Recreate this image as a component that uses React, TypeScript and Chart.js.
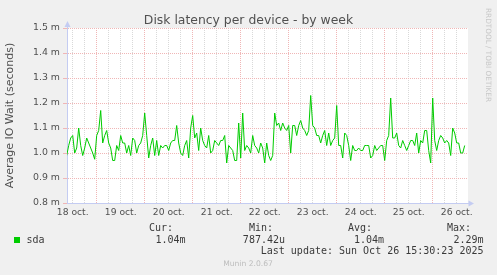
import { useEffect, useRef } from 'react';
import { Chart, registerables } from 'chart.js';

Chart.register(...registerables);

// time axis: hours after 18 oct 00:00, one sample per hour
const startHour = 9;
const stepHours = 1;

// average IO wait for sda, in milliseconds
const latencyMs = [
  0.99, 1.03, 1.06, 1.07, 1.0, 1.02, 1.1, 1.03, 0.99, 1.02, 1.06, 1.04, 1.02, 1.0, 0.975, 1.07, 1.09, 1.17, 1.04, 1.07, 1.09, 1.04, 1.02, 0.97, 0.97, 1.03,
  1.01, 1.07, 1.04, 1.04, 1.0, 1.03, 0.99, 1.06, 1.05, 1.0, 1.03, 1.04, 1.07, 1.16, 1.07, 0.98, 1.03, 1.06, 0.99, 1.05, 0.99, 1.03, 1.02, 1.03, 1.03,
  1.01, 1.04, 1.05, 1.05, 1.11, 1.04, 1.0, 0.99, 1.03, 1.05, 0.98, 1.1, 1.15, 1.06, 1.08, 1.01, 1.1, 1.05, 1.03, 1.02, 1.07, 1.0, 1.01, 1.05, 1.04,
  1.03, 1.05, 1.05, 1.07, 0.96, 1.03, 1.02, 1.01, 0.97, 0.97, 1.12, 0.98, 1.16, 1.01, 1.03, 1.02, 1.0, 1.07, 1.03, 1.02, 1.0, 1.04, 1.02, 0.96, 1.04,
  0.99, 0.97, 0.99, 1.16, 1.11, 1.12, 1.09, 1.12, 1.1, 1.09, 1.11, 1.0, 1.11, 1.11, 1.07, 1.11, 1.13, 1.1, 1.09, 1.07, 1.09, 1.23, 1.11, 1.1, 1.07,
  1.07, 1.04, 1.07, 1.09, 1.03, 1.08, 1.03, 1.05, 1.06, 1.19, 1.03, 1.03, 0.98, 1.08, 1.07, 1.03, 0.97, 1.03, 1.01, 1.01, 1.02, 1.01, 1.01, 1.03, 1.03,
  1.03, 0.98, 0.99, 1.03, 1.01, 1.02, 1.03, 1.03, 0.97, 1.05, 1.07, 1.22, 1.06, 1.06, 1.08, 1.03, 1.02, 1.05, 1.03, 1.01, 1.03, 1.05, 1.05, 1.03, 1.08,
  1.0, 1.05, 1.04, 1.09, 1.09, 1.01, 0.96, 1.22, 1.05, 1.01, 1.05, 1.07, 1.06, 1.04, 1.05, 1.04, 0.99, 1.1, 1.08, 1.04, 1.04, 1.0, 1.0, 1.03,
];

const dayLabels = ['18 oct.', '19 oct.', '20 oct.', '21 oct.', '22 oct.', '23 oct.', '24 oct.', '25 oct.', '26 oct.'];
const yTicks = [0.8, 0.9, 1.0, 1.1, 1.2, 1.3, 1.4, 1.5];
const xRange = [9.15, 209.65];

const seriesName = 'sda';
const legendHeaders = ['Cur:', 'Min:', 'Avg:', 'Max:'];
const legendValues = ['1.04m', '787.42u', '1.04m', '2.29m'];
const lastUpdate = 'Last update: Sun Oct 26 15:30:23 2025';
const chartTitle = 'Disk latency per device - by week';
const yTitle = 'Average IO Wait (seconds)';
const watermark = 'Munin 2.0.67';
const sideText = 'RRDTOOL / TOBI OETIKER';

const GREEN = '#00CC00';
const AXIS = '#C4CCF2';
const MAJOR = '#F0B6B6';
const MINOR = '#D9D9D9';
const SANS = '"DejaVu Sans", sans-serif';
const MONO = '"DejaVu Sans Mono", monospace';

const decor = {
  id: 'muninDecor',
  beforeDraw(chart: any) {
    const { ctx, chartArea: a, width, height } = chart;
    ctx.save();
    ctx.fillStyle = '#F0F0F0';
    ctx.fillRect(0, 0, width, height);
    ctx.fillStyle = '#FFFFFF';
    ctx.fillRect(a.left, a.top, a.right - a.left, a.bottom - a.top);
    ctx.restore();
  },
  afterDraw(chart: any) {
    const { ctx, chartArea: a } = chart;
    ctx.save();
    // axis arrows
    const ax = Math.round(a.left) + 0.5;
    const ay = Math.round(a.bottom) + 0.5;
    ctx.strokeStyle = AXIS;
    ctx.fillStyle = AXIS;
    ctx.lineWidth = 1;
    ctx.beginPath();
    ctx.moveTo(ax, a.top);
    ctx.lineTo(ax, a.top - 3);
    ctx.moveTo(a.right, ay);
    ctx.lineTo(a.right + 2, ay);
    ctx.stroke();
    ctx.beginPath();
    ctx.moveTo(ax, a.top - 7);
    ctx.lineTo(ax - 3, a.top - 1);
    ctx.lineTo(ax + 3, a.top - 1);
    ctx.closePath();
    ctx.fill();
    ctx.beginPath();
    ctx.moveTo(a.right + 6, ay);
    ctx.lineTo(a.right + 0.5, ay - 3);
    ctx.lineTo(a.right + 0.5, ay + 3);
    ctx.closePath();
    ctx.fill();

    // title
    ctx.fillStyle = '#505050';
    ctx.font = `12.4px ${SANS}`;
    ctx.textAlign = 'center';
    ctx.textBaseline = 'alphabetic';
    ctx.fillText(chartTitle, chart.width / 2, 24);

    // y title
    ctx.save();
    ctx.translate(10.5, (a.top + a.bottom) / 2);
    ctx.rotate(-Math.PI / 2);
    ctx.font = `11px ${SANS}`;
    ctx.textAlign = 'center';
    ctx.textBaseline = 'middle';
    ctx.fillStyle = '#505050';
    ctx.fillText(yTitle, 0, 0);
    ctx.restore();

    // side text
    ctx.save();
    ctx.translate(488, 8);
    ctx.rotate(Math.PI / 2);
    ctx.font = `7.3px ${SANS}`;
    ctx.textAlign = 'left';
    ctx.textBaseline = 'middle';
    ctx.fillStyle = '#C8C8C8';
    ctx.fillText(sideText, 0, 0);
    ctx.restore();

    // legend
    ctx.font = `10px ${MONO}`;
    ctx.textBaseline = 'middle';
    ctx.fillStyle = '#3A3A3A';
    const headX = [149, 249, 348, 447];
    const valRight = [185.5, 285, 384, 483.5];
    ctx.textAlign = 'left';
    legendHeaders.forEach((h, i) => ctx.fillText(h, headX[i], 228));
    ctx.textAlign = 'right';
    legendValues.forEach((v, i) => ctx.fillText(v, valRight[i], 240.5));
    ctx.fillText(lastUpdate, 483.5, 251.5);
    ctx.textAlign = 'left';
    ctx.fillText(seriesName, 26.5, 240.5);
    ctx.fillStyle = GREEN;
    ctx.fillRect(14, 237, 6, 6);

    // watermark
    ctx.font = `7.6px ${SANS}`;
    ctx.textAlign = 'center';
    ctx.fillStyle = '#BDBDBD';
    ctx.fillText(watermark, 248, 264);
    ctx.restore();
  },
};

export default function App() {
  const ref = useRef<HTMLCanvasElement | null>(null);

  useEffect(() => {
    document.body.style.margin = '0';
    const canvas = ref.current;
    if (!canvas) return;
    const points = latencyMs.map((v, i) => ({ x: startHour + i * stepHours, y: v }));
    const chart = new Chart(canvas, {
      type: 'line',
      data: {
        datasets: [
          {
            label: seriesName,
            data: points,
            borderColor: GREEN,
            borderWidth: 1,
            pointRadius: 0,
            tension: 0,
            fill: false,
          },
        ],
      },
      options: {
        animation: false,
        responsive: false,
        devicePixelRatio: 1,
        parsing: false as any,
        layout: { padding: { left: 0, top: 28, right: 29, bottom: 52 } },
        plugins: {
          legend: { display: false },
          tooltip: { enabled: false },
          title: { display: false },
        },
        scales: {
          x: {
            type: 'linear',
            min: xRange[0],
            max: xRange[1],
            afterBuildTicks: (scale: any) => {
              const t: any[] = [];
              for (let h = 0; h <= scale.max; h += 6) {
                if (h >= scale.min) t.push({ value: h });
              }
              scale.ticks = t;
            },
            afterFit: (scale: any) => {
              scale.height = 20;
            },
            ticks: {
              autoSkip: false,
              maxRotation: 0,
              minRotation: 0,
              padding: 4,
              color: '#505050',
              font: { family: SANS, size: 9.2 },
              callback: (value: any) => {
                const v = Number(value);
                return v % 24 === 12 ? dayLabels[(v - 12) / 24] ?? '' : '';
              },
            },
            grid: {
              drawTicks: false,
              color: (c: any) => (c.tick && c.tick.value % 24 === 0 ? MAJOR : MINOR),
              lineWidth: 1,
            },
            border: { display: true, color: AXIS, width: 1, dash: [1, 1] },
          },
          y: {
            type: 'linear',
            min: yTicks[0],
            max: yTicks[yTicks.length - 1],
            afterBuildTicks: (scale: any) => {
              scale.ticks = yTicks.map((v) => ({ value: v }));
            },
            afterFit: (scale: any) => {
              scale.width = 67;
            },
            ticks: {
              padding: 3,
              color: '#505050',
              font: { family: SANS, size: 9.4 },
              callback: (value: any) => Number(value).toFixed(1) + ' m',
            },
            grid: {
              drawTicks: true,
              tickLength: 4,
              color: MAJOR,
              lineWidth: 1,
            },
            border: { display: true, color: AXIS, width: 1, dash: [1, 1] },
          },
        },
      },
      plugins: [decor],
    });
    return () => chart.destroy();
  }, []);

  return (
    <div style={{ width: 497, height: 275 }}>
      <canvas ref={ref} width={497} height={275} style={{ display: 'block', width: 497, height: 275 }} />
    </div>
  );
}
